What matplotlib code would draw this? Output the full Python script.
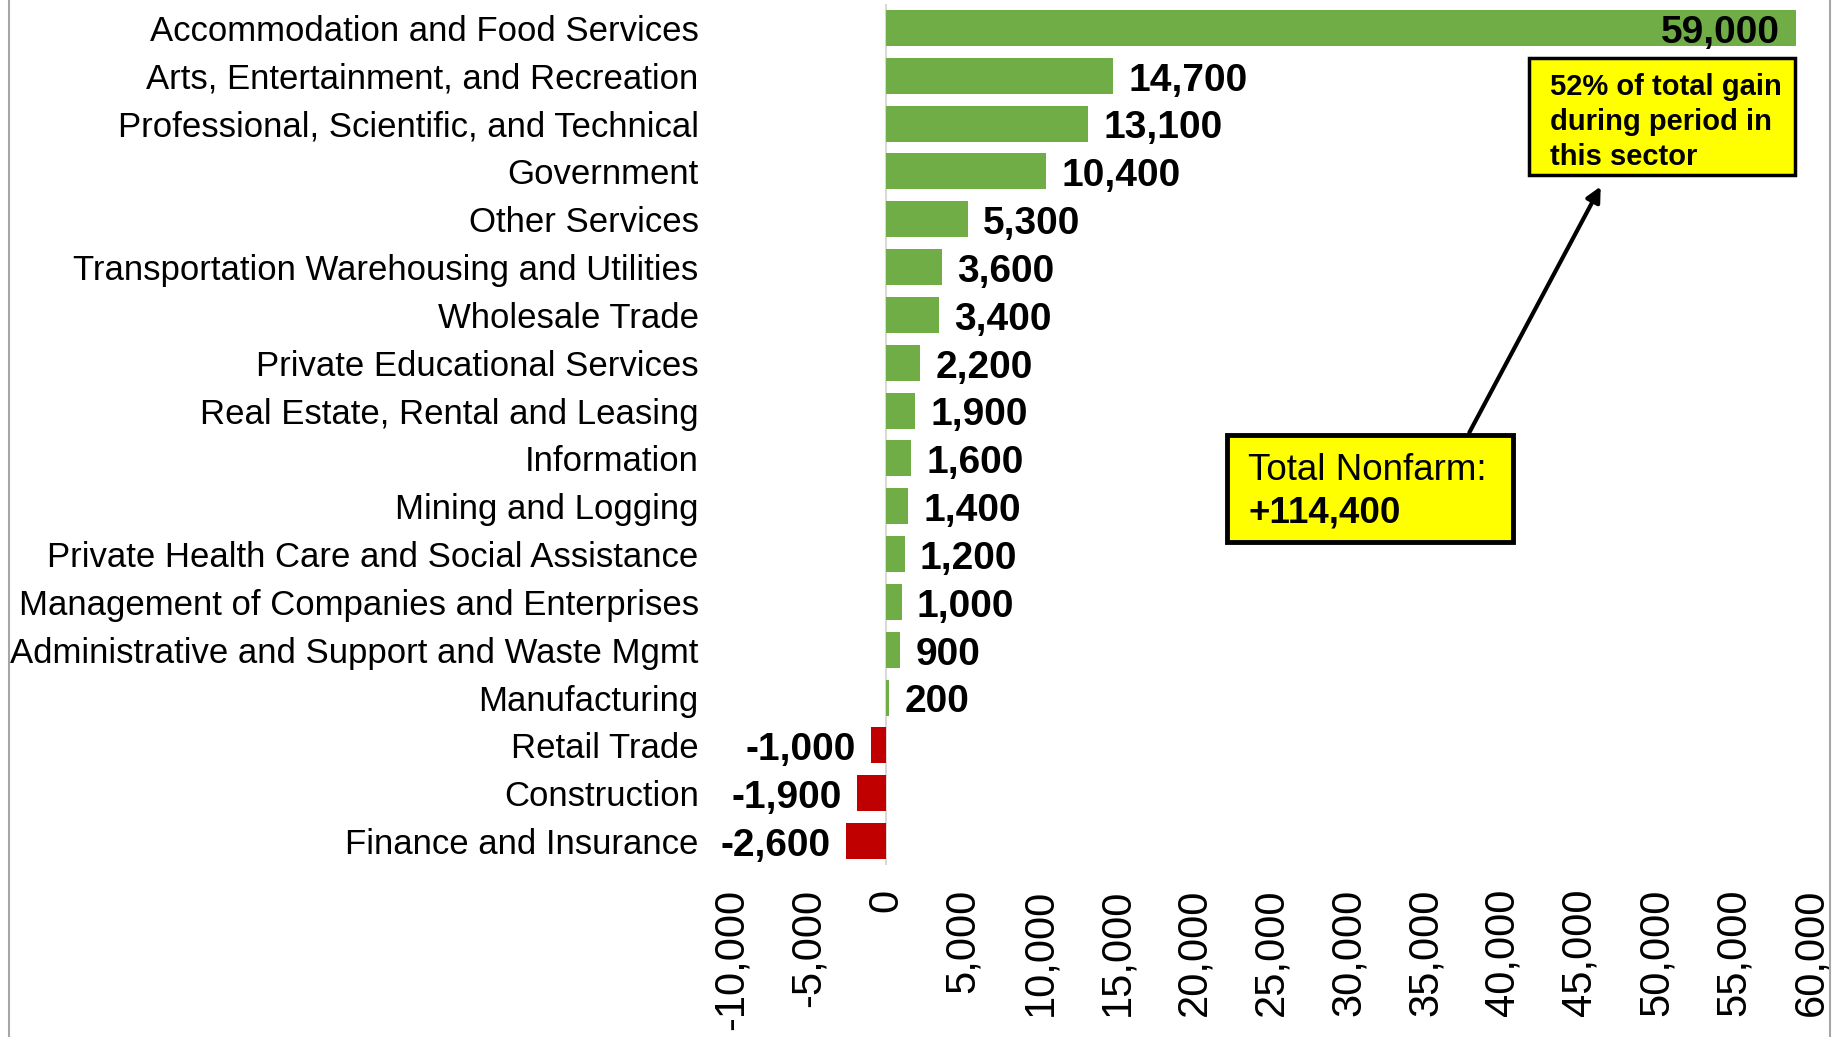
import matplotlib
matplotlib.use("Agg")
import matplotlib.pyplot as plt
from matplotlib.patches import Rectangle, FancyArrowPatch
from matplotlib.lines import Line2D

plt.rcParams['font.family'] = ['Liberation Sans', 'DejaVu Sans']

categories = [
    "Accommodation and Food Services",
    "Arts, Entertainment, and Recreation",
    "Professional, Scientific, and Technical",
    "Government",
    "Other Services",
    "Transportation Warehousing and Utilities",
    "Wholesale Trade",
    "Private Educational Services",
    "Real Estate, Rental and Leasing",
    "Information",
    "Mining and Logging",
    "Private Health Care and Social Assistance",
    "Management of Companies and Enterprises",
    "Administrative and Support and Waste Mgmt",
    "Manufacturing",
    "Retail Trade",
    "Construction",
    "Finance and Insurance",
]
values = [59000, 14700, 13100, 10400, 5300, 3600, 3400, 2200, 1900, 1600,
          1400, 1200, 1000, 900, 200, -1000, -1900, -2600]
x_ticks = list(range(-10000, 60001, 5000))
box1_text = "52% of total gain\nduring period in\nthis sector"
box2_line1 = "Total Nonfarm:"
box2_line2 = "+114,400"

W, H = 1845, 1037
fig = plt.figure(figsize=(W / 100, H / 100), dpi=100)
fig.patch.set_facecolor("white")

def fx(px):
    return px / W

def fy(py):
    return 1 - py / H

ax = fig.add_axes([fx(732), fy(865), fx(1811) - fx(732), fy(4) - fy(865)])

pos = list(range(len(categories)))
colors = ["#70AD47" if v >= 0 else "#C00000" for v in values]
ax.barh(pos, values, height=0.75, color=colors, zorder=2)
ax.set_ylim(len(categories) - 0.5, -0.5)
ax.set_xlim(-10000, 60000)

for s in ["top", "right", "bottom", "left"]:
    ax.spines[s].set_visible(False)
ax.axvline(0, color="#d9d9d9", lw=1.5, zorder=1)

ax.set_yticks(pos)
ax.set_yticklabels(categories, fontsize=25)
ax.tick_params(axis="y", length=0, pad=24)

ax.set_xticks(x_ticks)
ax.set_xticklabels([f"{t:,}" for t in x_ticks], rotation=90, fontsize=30)
ax.tick_params(axis="x", length=0, pad=17)

for i, v in enumerate(values):
    label = f"{v:,}"
    if i == 0:
        off, ha = -11, "right"
    elif v >= 0:
        off, ha = 11, "left"
    else:
        off, ha = -11, "right"
    ax.annotate(label, (v, i), xytext=(off, -3.5), textcoords="offset points",
                ha=ha, va="center", fontsize=28, fontweight="bold")

# annotation box 1
r1 = Rectangle((fx(1529), fy(175)), fx(1795) - fx(1529), fy(58) - fy(175),
               transform=fig.transFigure, facecolor="#FFFF00", edgecolor="black",
               lw=2.5, zorder=5)
fig.add_artist(r1)
fig.text(fx(1550), fy(122), box1_text, ha="left", va="center", fontsize=21,
         fontweight="bold", linespacing=1.3, zorder=6)

# annotation box 2
r2 = Rectangle((fx(1227), fy(542)), fx(1513) - fx(1227), fy(435) - fy(542),
               transform=fig.transFigure, facecolor="#FFFF00", edgecolor="black",
               lw=3.5, zorder=5)
fig.add_artist(r2)
fig.text(fx(1248), fy(480), box2_line1, ha="left", va="baseline", fontsize=26.5, zorder=6)
fig.text(fx(1248), fy(522), box2_line2, ha="left", va="baseline", fontsize=26.5,
         fontweight="bold", zorder=6)

arrow = FancyArrowPatch((fx(1468), fy(435)), (fx(1602), fy(184)),
                        transform=fig.transFigure, arrowstyle="-|>",
                        mutation_scale=22, lw=3, color="black", zorder=4)
fig.add_artist(arrow)

# chart border lines
fig.add_artist(Line2D([fx(9), fx(9)], [0, 1], transform=fig.transFigure,
                      color="#a6a6a6", lw=1.5))
fig.add_artist(Line2D([fx(1830), fx(1830)], [0, 1], transform=fig.transFigure,
                      color="#a6a6a6", lw=1.5))

fig.savefig("out.png", dpi=100)
